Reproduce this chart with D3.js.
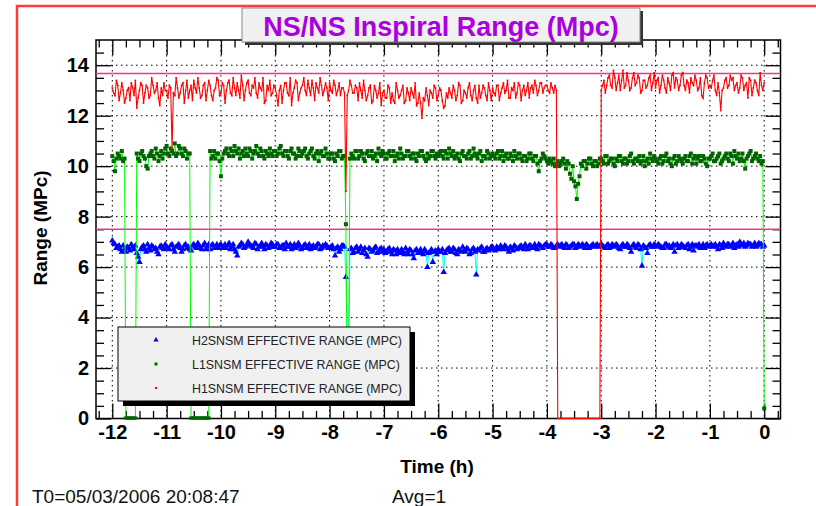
<!DOCTYPE html>
<html><head><meta charset="utf-8">
<script src="https://cdn.jsdelivr.net/npm/d3@7"></script>
<style>html,body{margin:0;padding:0;background:#fff;}svg{display:block;font-family:"Liberation Sans",Arial,Helvetica,sans-serif;}</style>
</head><body><svg id="c" width="816" height="506"></svg>
<script>
// ---- data ----
const chartTitle = "NS/NS Inspiral Range (Mpc)";
const xLabel = "Time (h)";
const yLabel = "Range (MPc)";
const footLeft = "T0=05/03/2006 20:08:47";
const footRight = "Avg=1";
const seriesNames = ["H2SNSM EFFECTIVE RANGE (MPC)", "L1SNSM EFFECTIVE RANGE (MPC)", "H1SNSM EFFECTIVE RANGE (MPC)"];
const xTicks = [-12,-11,-10,-9,-8,-7,-6,-5,-4,-3,-2,-1,0];
const yTicks = [0,2,4,6,8,10,12,14];
const refLines = [13.67, 7.5];
const tStart = -12, tStep = 0.025; // hours, one sample every 1.5 minutes

// samples on the 3-minute grid (-12.000, -11.950, ...)
const h2 = [
7.05,6.9,6.8,6.7,6.85,6.6,6.75,6.9,6.7,6.55,6.2,6.8,6.7,6.9,6.65,6.8,6.75,6.5,6.85,6.7,
6.8,6.7,6.9,6.6,6.85,6.75,6.7,6.9,6.8,6.65,6.9,6.75,6.85,6.7,6.95,6.8,6.7,6.9,6.8,6.75,
6.9,6.8,6.75,6.95,6.8,6.7,6.45,6.85,6.9,6.8,7.0,6.85,6.75,6.9,6.8,6.95,6.7,6.85,6.8,6.9,
6.8,6.9,6.75,6.85,6.95,6.8,6.7,6.9,6.8,6.85,6.75,6.9,6.8,6.7,6.85,6.8,6.9,6.75,6.8,6.85,
6.75,6.85,6.45,6.8,6.7,6.85,5.6,2.6,6.75,6.6,6.8,6.7,6.55,6.75,6.4,6.7,6.65,6.8,6.6,6.75,
6.7,6.6,6.75,6.5,6.65,6.7,6.55,6.6,6.75,6.5,6.65,6.35,6.7,6.6,6.55,6.7,6.0,6.6,6.2,6.65,
6.7,6.6,5.8,6.65,6.75,6.6,6.7,6.5,6.65,6.8,6.6,6.7,6.55,6.75,5.7,6.65,6.8,6.6,6.75,6.7,
6.8,6.65,6.75,6.85,6.7,6.8,6.6,6.75,6.85,6.7,6.8,6.75,6.9,6.7,6.85,6.8,6.75,6.9,6.8,6.85,
6.9,6.8,6.85,6.75,6.9,6.85,6.8,6.9,6.75,6.85,6.9,6.8,6.85,6.9,6.75,6.85,6.8,6.9,6.85,6.8,
6.9,6.8,6.85,6.75,6.9,6.8,6.85,6.7,6.9,6.8,6.85,6.6,6.9,6.75,6.85,6.05,6.8,6.55,6.9,6.8,
6.85,6.9,6.8,6.75,6.9,6.85,6.8,6.6,6.9,6.8,6.85,6.75,6.9,6.8,6.65,6.85,6.9,6.8,6.75,6.9,
6.85,6.8,6.9,6.7,6.85,6.95,6.8,6.9,6.85,6.75,6.9,7.0,6.85,6.8,6.95,6.9,6.85,6.8,6.95,6.9,6.85];
// samples half-way between them (-11.975, -11.925, ...)
const h2Mid = [
6.95,6.75,6.85,6.6,6.7,6.8,6.65,6.8,6.85,6.4,6.7,6.85,6.6,6.75,6.85,6.7,6.6,6.8,6.75,6.9,
6.75,6.85,6.7,6.8,6.9,6.6,6.85,6.75,6.7,6.85,6.8,6.95,6.75,6.85,6.7,6.9,6.85,6.75,6.9,6.85,
6.75,6.9,6.85,6.7,6.9,6.6,6.8,6.95,6.75,6.85,6.9,6.8,6.95,6.7,6.85,6.8,6.9,6.75,6.95,6.8,
6.9,6.75,6.85,6.7,6.8,6.9,6.8,6.75,6.95,6.7,6.85,6.75,6.9,6.8,6.75,6.9,6.7,6.85,6.9,6.75,
6.8,6.7,6.75,6.6,6.85,6.8,3.0,6.7,6.55,6.75,6.6,6.8,6.65,6.5,6.75,6.6,6.75,6.55,6.7,6.6,
6.55,6.7,6.6,6.7,6.5,6.6,6.7,6.5,6.6,6.7,6.5,6.65,6.55,6.7,6.5,6.6,6.55,6.7,6.6,6.5,
6.6,6.7,6.55,6.7,6.6,6.75,6.55,6.7,6.6,6.65,6.75,6.5,6.7,6.6,6.7,6.75,6.6,6.7,6.65,6.8,
6.7,6.8,6.7,6.75,6.85,6.7,6.8,6.65,6.8,6.75,6.85,6.7,6.8,6.85,6.75,6.9,6.7,6.85,6.75,6.9,
6.8,6.9,6.75,6.85,6.8,6.9,6.75,6.85,6.8,6.9,6.75,6.9,6.8,6.85,6.9,6.75,6.85,6.8,6.9,6.85,
6.85,6.75,6.9,6.8,6.85,6.9,6.75,6.85,6.8,6.9,6.75,6.85,6.8,6.9,6.7,6.85,6.75,6.85,6.8,6.9,
6.8,6.85,6.75,6.9,6.8,6.75,6.9,6.85,6.75,6.9,6.8,6.85,6.7,6.9,6.85,6.8,6.75,6.9,6.85,6.8,
6.9,6.85,6.8,6.9,6.75,6.85,6.9,6.8,6.95,6.85,6.8,6.9,6.95,6.85,6.9,6.8,6.95,6.85,6.9,6.8];

const l1 = [
10.4,9.8,10.5,10.3,10.2,0,0,0,0,10.5,10.2,10.6,10.3,9.9,10.5,10.4,10.7,10.2,10.6,10.5,
10.8,10.4,10.6,10.9,10.5,10.7,10.4,10.6,10.5,0,0,0,0,0,0,0,10.6,10.4,10.3,10.5,
9.6,10.5,10.7,10.4,10.6,10.8,10.5,10.3,10.6,10.7,10.4,10.6,10.5,10.8,10.4,10.6,10.3,10.5,10.7,10.4,
10.6,10.5,10.8,10.4,10.6,10.3,10.7,10.5,10.4,10.6,10.5,10.7,10.3,10.6,10.4,10.5,10.2,10.6,10.4,10.5,
10.3,10.5,10.2,10.4,10.6,10.4,7.7,2.2,10.5,10.3,10.6,10.4,10.5,10.2,10.6,10.4,10.3,10.5,10.7,10.4,
10.5,10.3,10.6,10.4,10.2,10.5,10.7,10.3,10.4,10.6,10.3,10.5,10.2,10.4,10.6,10.3,10.5,10.4,10.6,10.3,
10.4,10.6,10.3,10.5,10.7,10.4,10.3,10.5,10.2,10.6,10.4,10.5,10.3,10.7,10.4,10.5,10.2,10.4,10.6,10.3,
10.5,10.3,10.6,10.4,10.2,10.5,10.3,10.4,10.6,10.3,10.5,10.2,10.4,10.3,10.5,10.2,10.4,9.8,10.3,10.4,
10.2,10.3,10.1,10.0,10.2,10.1,10.3,9.9,10.1,9.5,9.4,8.7,9.6,10.0,10.2,10.1,10.3,10.0,10.2,10.1,
10.3,10.1,10.4,10.2,10.3,10.0,10.2,10.4,10.1,10.3,10.2,10.5,10.1,10.3,10.4,10.2,10.0,10.3,10.5,10.2,
10.3,10.1,10.4,10.2,10.5,10.3,10.0,10.4,10.2,10.3,10.1,10.4,10.2,10.5,10.3,10.1,10.4,10.2,10.3,10.0,
10.3,10.5,10.2,10.4,10.1,10.3,10.5,10.2,10.4,10.6,10.3,10.2,10.5,9.9,10.4,10.6,10.3,10.5,10.2,10.1,0.4];
const l1Mid = [
10.2,10.3,10.4,10.6,10.3,0,0,0,0,10.3,10.5,10.4,10.0,10.4,10.6,10.3,10.5,10.4,10.3,10.7,
10.5,10.7,10.5,10.4,10.8,10.5,10.7,10.3,10.5,0,0,0,0,0,0,0,10.3,10.6,10.5,10.2,
10.3,10.6,10.5,10.7,10.4,10.6,10.7,10.5,10.4,10.5,10.7,10.3,10.6,10.5,10.7,10.4,10.6,10.4,10.5,10.6,
10.4,10.7,10.5,10.6,10.4,10.6,10.5,10.3,10.7,10.4,10.6,10.4,10.5,10.7,10.3,10.6,10.5,10.4,10.7,10.3,
10.5,10.3,10.5,10.6,10.3,10.4,1.5,10.3,10.4,10.6,10.3,10.6,10.3,10.5,10.4,10.6,10.4,10.2,10.5,10.6,
10.3,10.5,10.4,10.6,10.4,10.3,10.5,10.4,10.6,10.4,10.5,10.3,10.5,10.6,10.4,10.2,10.3,10.6,10.4,10.5,
10.5,10.4,10.6,10.3,10.5,10.6,10.4,10.3,10.5,10.4,10.3,10.6,10.4,10.5,10.3,10.6,10.4,10.3,10.5,10.4,
10.4,10.5,10.3,10.6,10.4,10.3,10.5,10.2,10.4,10.5,10.3,10.4,10.2,10.5,10.3,10.4,10.1,10.2,10.5,10.3,
10.1,10.2,10.3,10.1,10.0,10.2,10.1,10.2,9.7,10.0,9.2,9.3,10.1,10.2,9.9,10.3,10.1,10.2,10.0,10.3,
10.2,10.4,10.1,10.3,10.1,10.3,10.4,10.2,10.3,10.1,10.4,10.2,10.3,10.2,10.1,10.4,10.2,10.1,10.3,10.4,
10.2,10.3,10.1,10.4,10.2,10.1,10.3,10.1,10.4,10.2,10.3,10.2,10.4,10.1,10.4,10.3,10.2,10.4,10.1,10.3,
10.4,10.2,10.3,10.5,10.2,10.4,10.3,10.5,10.1,10.4,10.5,10.3,10.2,10.3,10.5,10.2,10.4,10.3,10.4,10.2];

const h1 = [
13.1,12.8,13.2,12.9,13.0,12.7,13.1,13.3,12.8,12.3,13.0,13.2,12.9,13.1,12.8,13.2,13.0,12.7,13.1,13.3,
13.0,13.2,10.7,12.8,13.1,12.9,13.3,13.0,12.7,13.2,13.4,12.9,13.1,12.8,13.3,13.0,13.2,12.6,13.1,13.4,
12.9,13.2,13.0,13.4,12.8,13.1,13.3,12.7,13.2,13.0,13.4,12.8,13.1,12.9,13.3,13.0,12.5,13.2,13.4,12.9,
13.1,12.4,13.2,13.0,13.3,12.8,12.4,13.1,13.3,12.9,13.2,13.0,13.4,12.8,13.1,13.3,12.9,13.2,13.0,13.1,
13.3,12.9,13.2,13.0,12.8,13.1,9.0,13.0,13.2,12.9,13.1,13.3,12.7,13.0,12.8,13.2,12.6,13.0,12.9,12.4,
13.0,12.7,13.1,12.9,12.5,13.0,12.8,13.2,12.6,12.9,13.1,12.7,12.4,12.9,11.9,12.6,12.8,13.0,12.7,13.1,
12.8,13.0,12.3,12.9,13.1,12.7,13.0,12.8,13.2,12.6,12.9,13.1,12.8,13.0,12.7,13.2,12.9,13.1,12.6,13.0,
13.1,12.8,13.2,12.9,13.3,13.0,12.7,13.1,13.3,12.9,13.2,13.0,12.8,13.3,13.1,12.9,13.2,13.0,13.3,13.1,
13.2,12.9,13.1,13.2,0,0,0,0,0,0,0,0,0,0,0,0,0,0,0,0,
13.0,13.4,13.2,13.6,13.1,13.5,13.3,13.0,13.8,13.2,13.4,13.1,13.7,13.3,13.5,13.0,13.4,13.2,13.6,13.3,
13.1,13.5,13.2,13.4,12.9,13.3,13.6,13.1,13.4,13.2,13.7,13.0,13.3,13.5,13.2,13.4,13.1,12.8,13.3,13.5,
13.2,13.4,13.0,13.3,12.2,13.1,13.5,13.2,13.4,13.0,13.3,13.1,13.5,13.2,12.7,13.4,13.1,13.3,12.8,13.2,13.3];
const h1Mid = [
12.9,13.4,12.6,13.3,12.5,13.0,12.6,13.1,13.4,12.7,13.3,12.5,13.2,12.7,13.5,12.9,13.3,12.4,12.8,13.0,
12.7,13.1,12.9,13.5,12.7,13.2,12.5,13.4,13.0,12.6,13.1,13.5,12.7,13.2,12.6,13.4,12.8,13.0,13.5,12.8,
13.3,12.5,13.3,12.9,13.5,12.8,13.0,13.6,12.6,13.3,12.9,13.2,13.5,12.7,13.1,13.5,12.6,13.0,12.8,13.2,
12.8,13.0,12.5,13.3,12.9,13.5,12.9,13.4,12.6,13.1,13.5,12.8,13.1,13.4,12.6,13.1,13.5,12.8,13.3,12.6,
13.0,13.4,12.8,13.3,13.1,12.9,12.8,13.4,12.9,13.2,12.6,13.0,13.4,12.6,13.1,12.5,13.2,12.7,13.3,12.9,
12.7,13.2,12.5,12.6,13.3,12.7,13.0,12.5,13.1,12.6,12.9,13.3,12.5,12.5,12.7,13.1,12.4,12.9,13.2,12.6,
13.1,12.6,12.4,12.7,12.9,13.2,12.6,13.3,12.5,13.0,12.7,13.3,12.6,13.2,12.5,12.7,13.2,12.8,13.3,12.6,
12.9,13.2,12.6,13.1,12.9,13.4,12.7,13.0,12.7,13.3,12.6,13.2,13.0,12.7,13.2,13.4,12.8,13.3,12.9,13.2,
13.0,13.3,12.9,13.0,0,0,0,0,0,0,0,0,0,0,0,0,0,0,0,0,
13.2,12.9,13.5,13.2,13.8,13.0,13.6,13.4,13.1,13.7,13.0,13.5,13.2,13.6,12.9,13.4,13.1,13.5,13.0,13.7,
13.4,12.9,13.6,13.1,13.5,13.0,13.7,13.5,13.0,13.6,13.2,13.4,12.9,13.3,13.6,13.0,13.5,12.7,13.6,13.1,
13.1,13.6,12.8,12.9,13.0,13.4,13.1,13.6,13.5,13.2,12.9,13.6,13.0,13.3,13.5,12.8,13.4,13.0,13.7,13.0];

// merge the two sample grids into one time-ordered series
function merge(main, mid) {
  const out = [];
  main.forEach((v, i) => { out.push(v); if (i < mid.length) out.push(mid[i]); });
  return out;
}

// ---- layout ----
const svg = d3.select("#c");
const L = 96, R = 780.5, T = 40, B = 418.5;
const x = d3.scaleLinear().domain([-12.3, 0.3]).range([L, R]);
const y = d3.scaleLinear().domain([0, 15]).range([B, T]);
const tOf = i => tStart + i * tStep;

svg.append("rect").attr("width", 816).attr("height", 506).attr("fill", "#fff");
svg.append("rect").attr("x", 17).attr("y", 6).attr("width", 900).attr("height", 600)
  .attr("fill", "none").attr("stroke", "#ff3b3b").attr("stroke-width", 2.5);

// grid
const grid = svg.append("g").attr("stroke", "#000").attr("stroke-width", 1).attr("stroke-dasharray", "1.5,3.5");
xTicks.forEach(v => grid.append("line").attr("x1", x(v)).attr("x2", x(v)).attr("y1", T).attr("y2", B));
yTicks.filter(v => v > 0).forEach(v => grid.append("line").attr("x1", L).attr("x2", R).attr("y1", y(v)).attr("y2", y(v)));

// axes (ROOT style: ticks inside the frame on all four sides)
const xMinor = d3.range(-12.25, 0.3, 0.25).filter(v => Math.abs(v - Math.round(v)) > 1e-6);
const yMinor = d3.range(0.5, 15, 0.5).filter(v => Math.abs(v / 2 - Math.round(v / 2)) > 1e-6);
const fontAx = "bold 20px 'Liberation Sans', Arial, sans-serif";
const axB = svg.append("g").attr("transform", `translate(0,${B})`)
  .call(d3.axisBottom(x).tickValues(xTicks).tickSize(-15).tickPadding(6).tickFormat(d => d));
axB.append("g").call(d3.axisBottom(x).tickValues(xMinor).tickSize(-7.5).tickFormat(""));
const axT = svg.append("g").attr("transform", `translate(0,${T})`)
  .call(d3.axisTop(x).tickValues(xTicks).tickSize(-15).tickFormat(""));
axT.append("g").call(d3.axisTop(x).tickValues(xMinor).tickSize(-7.5).tickFormat(""));
const axL = svg.append("g").attr("transform", `translate(${L},0)`)
  .call(d3.axisLeft(y).tickValues(yTicks).tickSize(-15).tickPadding(7).tickFormat(d => d));
axL.append("g").call(d3.axisLeft(y).tickValues(yMinor).tickSize(-8).tickFormat(""));
const axR = svg.append("g").attr("transform", `translate(${R},0)`)
  .call(d3.axisRight(y).tickValues(yTicks).tickSize(-15).tickFormat(""));
axR.append("g").call(d3.axisRight(y).tickValues(yMinor).tickSize(-8).tickFormat(""));
svg.selectAll(".domain").remove();
svg.selectAll(".tick line").attr("stroke", "#000").attr("stroke-width", 1.3);
svg.selectAll(".tick text").style("font", fontAx).attr("fill", "#000");
svg.append("rect").attr("x", L).attr("y", T).attr("width", R - L).attr("height", B - T)
  .attr("fill", "none").attr("stroke", "#000").attr("stroke-width", 1.5);

// reference lines
refLines.forEach(v => svg.append("line").attr("x1", L).attr("x2", R).attr("y1", y(v)).attr("y2", y(v))
  .attr("stroke", "#ee3399").attr("stroke-width", 1.6));

// data
svg.append("clipPath").attr("id", "pc").append("rect").attr("x", L).attr("y", T).attr("width", R - L).attr("height", B - T + 1);
const plot = svg.append("g").attr("clip-path", "url(#pc)");
const line = d3.line().x((d, i) => x(tOf(i))).y(d => y(d));
function series(data, lineColor, lineWidth, markerFn) {
  plot.append("path").datum(data).attr("d", line).attr("fill", "none").attr("stroke", lineColor).attr("stroke-width", lineWidth);
  const g = plot.append("g");
  data.forEach((d, i) => markerFn(g, x(tOf(i)), y(d)));
}
const tri = d3.symbol().type(d3.symbolTriangle).size(18)();
series(merge(h2, h2Mid), "#00ffff", 1, (g, cx, cy) => g.append("path").attr("d", tri).attr("transform", `translate(${cx},${cy})`).attr("fill", "#0000ff"));
series(merge(l1, l1Mid), "#00ff00", 1, (g, cx, cy) => g.append("rect").attr("x", cx - 2).attr("y", cy - 2).attr("width", 4).attr("height", 4).attr("fill", "#006400"));
series(merge(h1, h1Mid), "#ff0000", 1.1, (g, cx, cy) => g.append("rect").attr("x", cx - 0.8).attr("y", cy - 0.8).attr("width", 1.6).attr("height", 1.6).attr("fill", "#ff0000"));

// legend
const lg = svg.append("g");
lg.append("rect").attr("x", 123).attr("y", 332).attr("width", 292).attr("height", 74).attr("fill", "#000");
lg.append("rect").attr("x", 118).attr("y", 327).attr("width", 292).attr("height", 74).attr("fill", "#f0f0f0").attr("stroke", "#000").attr("stroke-width", 1);
const rows = [340, 364, 388];
lg.append("path").attr("d", d3.symbol().type(d3.symbolTriangle).size(12)()).attr("transform", `translate(156,${rows[0]})`).attr("fill", "#0000ff");
lg.append("rect").attr("x", 154.5).attr("y", rows[1] - 1.5).attr("width", 3).attr("height", 3).attr("fill", "#006400");
lg.append("rect").attr("x", 155).attr("y", rows[2] - 1).attr("width", 2).attr("height", 2).attr("fill", "#ff0000");
seriesNames.forEach((s, i) => lg.append("text").attr("x", 192).attr("y", rows[i] + 5).text(s)
  .style("font", "12.4px 'Liberation Sans', Arial, sans-serif").attr("fill", "#222"));

// title box
svg.append("rect").attr("x", 245).attr("y", 11).attr("width", 398).attr("height", 34).attr("fill", "#333");
svg.append("rect").attr("x", 242).attr("y", 8).attr("width", 398).attr("height", 34).attr("fill", "#f0f0f0").attr("stroke", "#888").attr("stroke-width", 1);
svg.append("text").attr("x", 441).attr("y", 36).attr("text-anchor", "middle").text(chartTitle)
  .style("font", "bold 27px 'Liberation Sans', Arial, sans-serif").attr("fill", "#aa00dd");

// axis titles
svg.append("text").attr("x", 437).attr("y", 473).attr("text-anchor", "middle").text(xLabel)
  .style("font", "bold 19px 'Liberation Sans', Arial, sans-serif");
svg.append("text").attr("transform", "translate(47,228) rotate(-90)").attr("text-anchor", "middle").text(yLabel)
  .style("font", "bold 19px 'Liberation Sans', Arial, sans-serif");

// footer
svg.append("text").attr("x", 32).attr("y", 503).text(footLeft).style("font", "19px 'Liberation Sans', Arial, sans-serif").attr("fill", "#111");
svg.append("text").attr("x", 392).attr("y", 503).text(footRight).style("font", "19px 'Liberation Sans', Arial, sans-serif").attr("fill", "#111");
</script></body></html>
